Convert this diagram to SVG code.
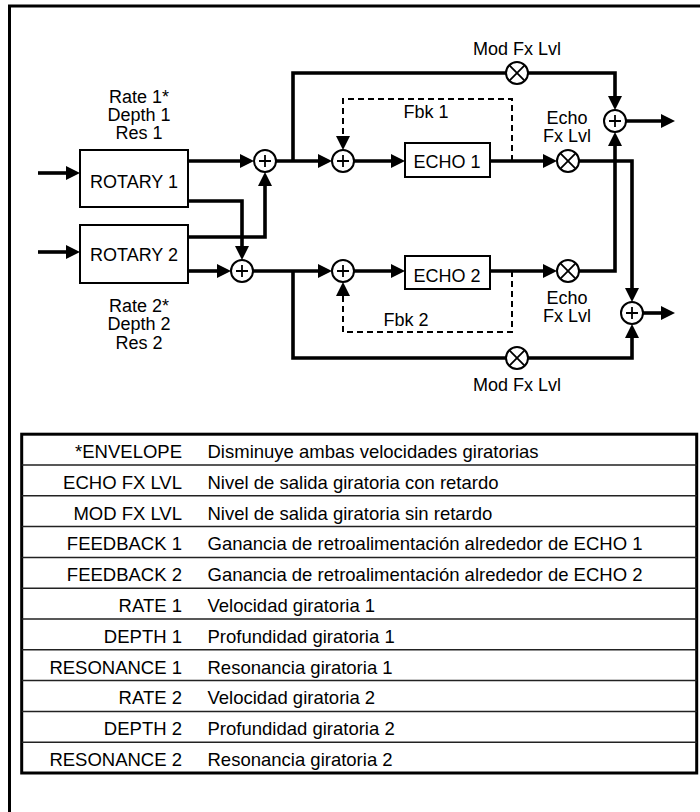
<svg xmlns="http://www.w3.org/2000/svg" width="700" height="812" viewBox="0 0 700 812">
  <style>
    text { font-family: "Liberation Sans", Arial, sans-serif; font-size: 18px; fill: #000; }
    .c { text-anchor: middle; }
    .tbl text { font-size: 18.5px; }
    .r { text-anchor: end; }
    .box { fill: #fff; stroke: #000; stroke-width: 2; }
    .node { fill: #fff; stroke: #000; stroke-width: 2; }
    .sym { fill: none; stroke: #000; stroke-width: 1.8; }
    .wire { fill: none; stroke: #000; stroke-width: 3.6; stroke-linejoin: miter; }
    .dash { fill: none; stroke: #000; stroke-width: 2; stroke-dasharray: 6 4; }
    .row { stroke: #222; stroke-width: 1.5; }
  </style>
  <defs>
    <marker id="ah" markerUnits="userSpaceOnUse" markerWidth="15" markerHeight="15" refX="0" refY="7" orient="auto" viewBox="0 0 15 14">
      <path d="M0,0 L14,7 L0,14 Z" fill="#000"/>
    </marker>
  </defs>
  <rect x="9.5" y="6" width="720" height="830" fill="none" stroke="#000" stroke-width="3"/>

  <g id="connectors">
    <path class="wire" d="M38,173 H66" marker-end="url(#ah)"/>
    <path class="wire" d="M38,252 H66" marker-end="url(#ah)"/>
    <path class="wire" d="M188,161 H240" marker-end="url(#ah)"/>
    <path class="wire" d="M188,201 H242 V246" marker-end="url(#ah)"/>
    <path class="wire" d="M188,237 H265 V186" marker-end="url(#ah)"/>
    <path class="wire" d="M188,271 H217" marker-end="url(#ah)"/>
    <path class="wire" d="M276,161 H318" marker-end="url(#ah)"/>
    <path class="wire" d="M293,161 V73 H506"/>
    <path class="wire" d="M528,73 H615 V96" marker-end="url(#ah)"/>
    <path class="wire" d="M354,161 H391" marker-end="url(#ah)"/>
    <path class="wire" d="M490,161 H543" marker-end="url(#ah)"/>
    <path class="wire" d="M579,161 H632 V288" marker-end="url(#ah)"/>
    <path class="dash" d="M512,161 V99 H343 V136" marker-end="url(#ah)"/>
    <path class="wire" d="M626,121 H661" marker-end="url(#ah)"/>
    <path class="wire" d="M253,271 H318" marker-end="url(#ah)"/>
    <path class="wire" d="M293,271 V358 H506"/>
    <path class="wire" d="M528,358 H632 V338" marker-end="url(#ah)"/>
    <path class="wire" d="M354,271 H391" marker-end="url(#ah)"/>
    <path class="wire" d="M490,271 H543" marker-end="url(#ah)"/>
    <path class="wire" d="M579,271 H615 V146" marker-end="url(#ah)"/>
    <path class="dash" d="M512,271 V332 H343 V296" marker-end="url(#ah)"/>
    <path class="wire" d="M643,313 H661" marker-end="url(#ah)"/>
  </g>

  <g id="rotary1">
    <rect class="box" x="80" y="150" width="108" height="57"/>
    <text class="c" x="134" y="188">ROTARY 1</text>
  </g>
  <g id="rotary2">
    <rect class="box" x="80" y="225" width="108" height="58"/>
    <text class="c" x="134" y="261">ROTARY 2</text>
  </g>
  <g id="rotary1-params">
    <text class="c" x="139" y="103">Rate 1*</text>
    <text class="c" x="139" y="121">Depth 1</text>
    <text class="c" x="139" y="139">Res 1</text>
  </g>
  <g id="rotary2-params">
    <text class="c" x="139" y="312">Rate 2*</text>
    <text class="c" x="139" y="330">Depth 2</text>
    <text class="c" x="139" y="349">Res 2</text>
  </g>

  <g id="sum1"><circle class="node" cx="265" cy="161" r="11"/><path class="sym" d="M259,161 H271 M265,155 V167"/></g>
  <g id="sum2"><circle class="node" cx="242" cy="271" r="11"/><path class="sym" d="M236,271 H248 M242,265 V277"/></g>
  <g id="sum3"><circle class="node" cx="343" cy="161" r="11"/><path class="sym" d="M337,161 H349 M343,155 V167"/></g>
  <g id="sum4"><circle class="node" cx="343" cy="271" r="11"/><path class="sym" d="M337,271 H349 M343,265 V277"/></g>
  <g id="out1"><circle class="node" cx="615" cy="121" r="11"/><path class="sym" d="M609,121 H621 M615,115 V127"/></g>
  <g id="out2"><circle class="node" cx="632" cy="313" r="11"/><path class="sym" d="M626,313 H638 M632,307 V319"/></g>

  <g id="mod1"><circle class="node" cx="517" cy="73" r="11"/><path class="sym" d="M509.2,65.2 L524.8,80.8 M524.8,65.2 L509.2,80.8"/></g>
  <g id="echolvl1"><circle class="node" cx="568" cy="161" r="11"/><path class="sym" d="M560.2,153.2 L575.8,168.8 M575.8,153.2 L560.2,168.8"/></g>
  <g id="echolvl2"><circle class="node" cx="568" cy="271" r="11"/><path class="sym" d="M560.2,263.2 L575.8,278.8 M575.8,263.2 L560.2,278.8"/></g>
  <g id="mod2"><circle class="node" cx="517" cy="358" r="11"/><path class="sym" d="M509.2,350.2 L524.8,365.8 M524.8,350.2 L509.2,365.8"/></g>

  <g id="echo1">
    <rect class="box" x="405" y="143" width="85" height="34"/>
    <text class="c" x="447" y="168">ECHO 1</text>
  </g>
  <g id="echo2">
    <rect class="box" x="405" y="256" width="85" height="33"/>
    <text class="c" x="447" y="282">ECHO 2</text>
  </g>

  <g id="labels">
    <text class="c" x="517" y="55">Mod Fx Lvl</text>
    <text class="c" x="517" y="391">Mod Fx Lvl</text>
    <text class="c" x="567" y="124">Echo</text>
    <text class="c" x="567" y="142">Fx Lvl</text>
    <text class="c" x="567" y="304">Echo</text>
    <text class="c" x="567" y="322">Fx Lvl</text>
    <text class="c" x="426" y="118">Fbk 1</text>
    <text class="c" x="406" y="326">Fbk 2</text>
  </g>

  <g id="table" class="tbl">
    <rect x="21.7" y="434.2" width="675" height="338.8" fill="none" stroke="#000" stroke-width="3"/>
    <path class="row" d="M21.7,465 H696.7 M21.7,495.8 H696.7 M21.7,526.6 H696.7 M21.7,557.4 H696.7 M21.7,588.2 H696.7 M21.7,619 H696.7 M21.7,649.8 H696.7 M21.7,680.6 H696.7 M21.7,711.4 H696.7 M21.7,742.2 H696.7"/>
    <text class="r" x="182" y="458">*ENVELOPE</text>
    <text x="207.5" y="458">Disminuye ambas velocidades giratorias</text>
    <text class="r" x="182" y="488.8">ECHO FX LVL</text>
    <text x="207.5" y="488.8">Nivel de salida giratoria con retardo</text>
    <text class="r" x="182" y="519.6">MOD FX LVL</text>
    <text x="207.5" y="519.6">Nivel de salida giratoria sin retardo</text>
    <text class="r" x="182" y="550.4">FEEDBACK 1</text>
    <text x="207.5" y="550.4">Ganancia de retroalimentación alrededor de ECHO 1</text>
    <text class="r" x="182" y="581.2">FEEDBACK 2</text>
    <text x="207.5" y="581.2">Ganancia de retroalimentación alrededor de ECHO 2</text>
    <text class="r" x="182" y="612">RATE 1</text>
    <text x="207.5" y="612">Velocidad giratoria 1</text>
    <text class="r" x="182" y="642.8">DEPTH 1</text>
    <text x="207.5" y="642.8">Profundidad giratoria 1</text>
    <text class="r" x="182" y="673.6">RESONANCE 1</text>
    <text x="207.5" y="673.6">Resonancia giratoria 1</text>
    <text class="r" x="182" y="704.4">RATE 2</text>
    <text x="207.5" y="704.4">Velocidad giratoria 2</text>
    <text class="r" x="182" y="735.2">DEPTH 2</text>
    <text x="207.5" y="735.2">Profundidad giratoria 2</text>
    <text class="r" x="182" y="766">RESONANCE 2</text>
    <text x="207.5" y="766">Resonancia giratoria 2</text>
  </g>
</svg>
